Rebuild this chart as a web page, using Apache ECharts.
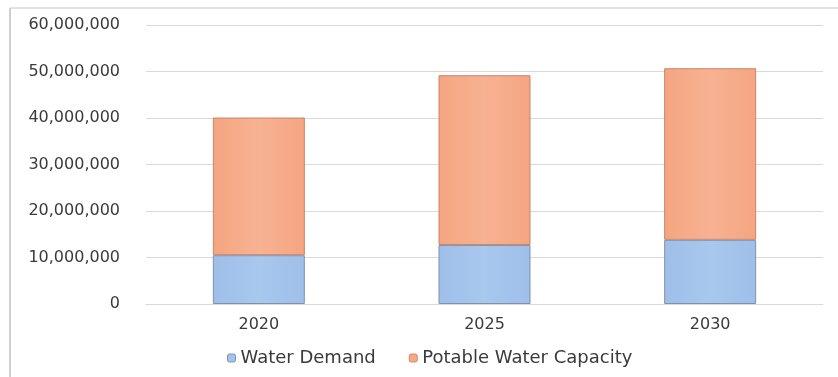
<!DOCTYPE html>
<html>
<head>
<meta charset="utf-8">
<script src="https://cdn.jsdelivr.net/npm/echarts@6/dist/echarts.min.js"></script>
<style>
  html, body { margin: 0; padding: 0; background: #ffffff; }
  #chart { width: 838px; height: 377px; }
</style>
</head>
<body>
<div id="chart"></div>
<script>
// Water demand vs. potable water capacity, stacked by planning year
const years = ['2020', '2025', '2030'];
const waterDemand = [10500000, 12700000, 13800000];
const potableCapacity = [29600000, 36500000, 36900000];
const yTicks = [0, 10000000, 20000000, 30000000, 40000000, 50000000, 60000000];
const seriesNames = ['Water Demand', 'Potable Water Capacity'];

const FONT = 'DejaVu Sans';

function fmt(v) {
  return String(v).replace(/\B(?=(\d{3})+(?!\d))/g, ',');
}

function barGradient(edge, mid) {
  return new echarts.graphic.LinearGradient(0, 0, 1, 0, [
    { offset: 0, color: edge },
    { offset: 0.5, color: mid },
    { offset: 1, color: edge }
  ]);
}

const chart = echarts.init(document.getElementById('chart'), null, { renderer: 'canvas' });

chart.setOption({
  animation: false,
  backgroundColor: '#ffffff',
  graphic: [
    { type: 'line', shape: { x1: 10, y1: 8, x2: 838, y2: 8 }, style: { stroke: '#d9d9d9', lineWidth: 1.5 } },
    { type: 'line', shape: { x1: 10, y1: 8, x2: 10, y2: 377 }, style: { stroke: '#cfcfcf', lineWidth: 2 } }
  ],
  grid: { left: 146, right: 15, top: 25, bottom: 73, containLabel: false },
  legend: {
    left: 222,
    top: 344,
    itemWidth: 8,
    itemHeight: 8,
    itemGap: 33,
    textStyle: { fontFamily: FONT, fontSize: 18, color: '#3a3a3a' },
    data: [
      { name: seriesNames[0], itemStyle: { color: '#a4c3ec', borderColor: '#7d93ad', borderWidth: 1 } },
      { name: seriesNames[1], itemStyle: { color: '#f6a987', borderColor: '#d48a68', borderWidth: 1 } }
    ]
  },
  xAxis: {
    type: 'category',
    data: years,
    axisLine: { show: true, lineStyle: { color: '#d9d9d9', width: 1 } },
    axisTick: { show: false },
    axisLabel: { fontFamily: FONT, fontSize: 16, color: '#3a3a3a', margin: 13 }
  },
  yAxis: {
    type: 'value',
    min: yTicks[0],
    max: yTicks[yTicks.length - 1],
    interval: yTicks[1] - yTicks[0],
    axisLine: { show: false },
    axisTick: { show: false },
    splitLine: { lineStyle: { color: '#d9d9d9', width: 1 } },
    axisLabel: {
      fontFamily: FONT, fontSize: 16, color: '#3a3a3a', margin: 26,
      formatter: fmt
    }
  },
  series: [
    {
      name: seriesNames[0],
      type: 'bar',
      stack: 'water',
      barWidth: 92,
      data: waterDemand,
      itemStyle: {
        color: barGradient('#9fbee9', '#a9c8ee'),
        borderColor: '#7d93ad',
        borderWidth: 1
      }
    },
    {
      name: seriesNames[1],
      type: 'bar',
      stack: 'water',
      barWidth: 92,
      data: potableCapacity,
      itemStyle: {
        color: barGradient('#f5a580', '#f7b293'),
        borderColor: '#c98468',
        borderWidth: 1
      }
    }
  ]
});
</script>
</body>
</html>
